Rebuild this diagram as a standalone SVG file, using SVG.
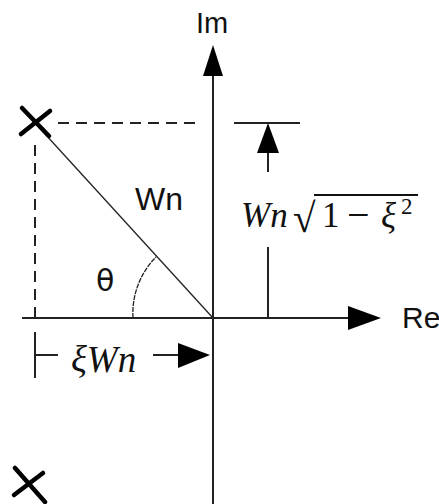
<svg xmlns="http://www.w3.org/2000/svg" width="439" height="504" viewBox="0 0 439 504">
<defs>
<style>
.ax{stroke:#222;stroke-width:2;fill:none}
.thin{stroke:#222;stroke-width:1.3;fill:none}
.dash{stroke:#222;stroke-width:2;stroke-dasharray:11 7;fill:none}
.pole{stroke:#000;stroke-width:4.5;stroke-linecap:round;fill:none}
.ah{fill:#000;stroke:none}
.lbl{font-family:"Liberation Sans",Arial,sans-serif;font-size:30px;fill:#111}
.m{font-family:"Liberation Serif","DejaVu Serif",serif;font-size:35px;fill:#111}
.mi{font-style:italic}
</style>
</defs>
<rect width="439" height="504" fill="#fff"/>
<g id="connectors">
<line class="ax" x1="213" y1="70" x2="213" y2="504"/>
<polygon class="ah" points="213,45 203,76 223,76"/>
<line class="ax" x1="22" y1="318" x2="350" y2="318"/>
<polygon class="ah" points="381,318 348,306 348,330"/>
<line class="dash" x1="58" y1="123" x2="202" y2="123"/>
<line class="dash" x1="35" y1="145" x2="35" y2="318"/>
<line class="thin" x1="35" y1="123" x2="213" y2="318"/>
<path class="thin" d="M133,318 A80,80 0 0 1 156,257" stroke-dasharray="5 1"/>
<line class="ax" x1="234" y1="123" x2="300" y2="123"/>
<polygon class="ah" points="268,123 257,153 279,153"/>
<line class="ax" x1="268" y1="153" x2="268" y2="172"/>
<line class="ax" x1="268" y1="247" x2="268" y2="318"/>
<line class="ax" x1="35" y1="332" x2="35" y2="378"/>
<line class="ax" x1="35" y1="355" x2="58" y2="355"/>
<line class="ax" x1="153" y1="355" x2="180" y2="355"/>
<polygon class="ah" points="210,355 178,343 178,368"/>
</g>
<g id="pole-upper">
<line class="pole" x1="22" y1="108" x2="49" y2="136"/>
<line class="pole" x1="50" y1="111" x2="21" y2="134"/>
</g>
<g id="pole-lower">
<line class="pole" x1="15" y1="468" x2="45" y2="502"/>
<line class="pole" x1="43" y1="473" x2="14" y2="495"/>
</g>
<g id="label-im"><text class="lbl" x="196" y="33" style="font-size:29px">Im</text></g>
<g id="label-re"><text class="lbl" x="402" y="328">Re</text></g>
<g id="label-wn"><text class="lbl" x="135" y="210" style="font-size:32px">Wn</text></g>
<g id="label-theta"><text class="lbl" x="96" y="291" style="font-family:'DejaVu Sans',sans-serif;font-size:30px">θ</text></g>
<g id="label-imag-part">
<text class="m mi" x="241" y="227">Wn</text>
<text class="m" x="293" y="232" style="font-size:41px">√</text>
<line x1="314" y1="195" x2="418" y2="195" stroke="#111" stroke-width="2"/>
<text class="m" x="322" y="227">1</text>
<text class="m" x="347" y="228" style="font-size:40px">−</text>
<text class="m mi" x="381" y="227">ξ</text>
<text class="m" x="401" y="214" style="font-size:23px">2</text>
</g>
<g id="label-real-part">
<text class="m mi" x="71" y="372" style="font-size:37px">ξWn</text>
</g>
</svg>
